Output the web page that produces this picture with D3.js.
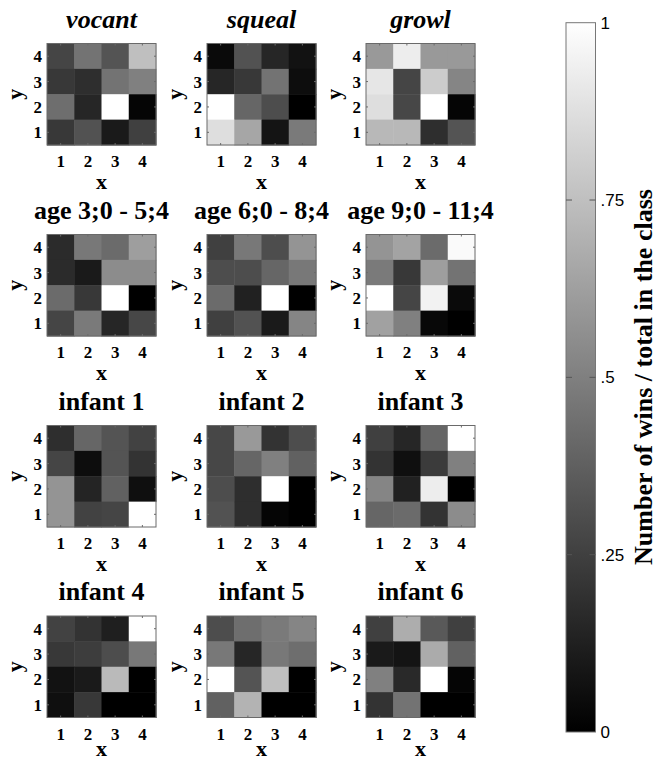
<!DOCTYPE html>
<html>
<head>
<meta charset="utf-8">
<script src="https://d3js.org/d3.v7.min.js"></script>
<style>
  body { margin: 0; background: #fff; }
  svg text { font-family: "Liberation Serif", "Times New Roman", serif; font-weight: bold; fill: #000; }
  svg text.cb { font-family: "Liberation Sans", Arial, sans-serif; font-weight: normal; }
</style>
</head>
<body>
<script>
// panel titles, in reading order
var titles = ['vocant', 'squeal', 'growl',
              'age 3;0 - 5;4', 'age 6;0 - 8;4', 'age 9;0 - 11;4',
              'infant 1', 'infant 2', 'infant 3',
              'infant 4', 'infant 5', 'infant 6'];
var italicTitles = ['vocant', 'squeal', 'growl'];

var xs = [1, 2, 3, 4];
var ys = [4, 3, 2, 1];   // rows from top to bottom

// each grid: rows y=4 .. y=1, columns x=1 .. 4
var vocant = [[0.27, 0.45, 0.33, 0.75],
              [0.22, 0.18, 0.45, 0.50],
              [0.43, 0.15, 1.00, 0.02],
              [0.22, 0.32, 0.10, 0.25]];
var squeal = [[0.04, 0.32, 0.15, 0.07],
              [0.15, 0.22, 0.45, 0.05],
              [1.00, 0.40, 0.30, 0.00],
              [0.87, 0.65, 0.08, 0.48]];
var growl  = [[0.60, 0.93, 0.60, 0.60],
              [0.90, 0.27, 0.80, 0.52],
              [0.87, 0.28, 1.00, 0.02],
              [0.72, 0.72, 0.18, 0.33]];
var age3   = [[0.17, 0.47, 0.42, 0.62],
              [0.17, 0.10, 0.55, 0.55],
              [0.42, 0.22, 1.00, 0.00],
              [0.27, 0.48, 0.15, 0.28]];
var age6   = [[0.25, 0.47, 0.30, 0.58],
              [0.30, 0.30, 0.40, 0.47],
              [0.42, 0.13, 1.00, 0.00],
              [0.25, 0.32, 0.10, 0.52]];
var age9   = [[0.58, 0.64, 0.42, 0.98],
              [0.48, 0.22, 0.62, 0.45],
              [1.00, 0.27, 0.95, 0.04],
              [0.63, 0.50, 0.03, 0.00]];
var infant1 = [[0.18, 0.40, 0.33, 0.26],
               [0.27, 0.05, 0.33, 0.20],
               [0.58, 0.14, 0.38, 0.06],
               [0.58, 0.26, 0.27, 1.00]];
var infant2 = [[0.28, 0.60, 0.20, 0.30],
               [0.28, 0.40, 0.50, 0.38],
               [0.30, 0.18, 1.00, 0.00],
               [0.32, 0.18, 0.02, 0.00]];
var infant3 = [[0.25, 0.15, 0.40, 1.00],
               [0.20, 0.06, 0.23, 0.50],
               [0.52, 0.13, 0.93, 0.00],
               [0.40, 0.42, 0.20, 0.55]];
var infant4 = [[0.26, 0.20, 0.12, 1.00],
               [0.22, 0.24, 0.30, 0.47],
               [0.07, 0.10, 0.73, 0.00],
               [0.06, 0.22, 0.00, 0.00]];
var infant5 = [[0.30, 0.43, 0.48, 0.52],
               [0.47, 0.15, 0.47, 0.43],
               [1.00, 0.33, 0.75, 0.00],
               [0.38, 0.70, 0.00, 0.00]];
var infant6 = [[0.25, 0.68, 0.35, 0.25],
               [0.10, 0.08, 0.67, 0.38],
               [0.50, 0.16, 1.00, 0.02],
               [0.20, 0.45, 0.00, 0.00]];

var grids = [vocant, squeal, growl, age3, age6, age9,
             infant1, infant2, infant3, infant4, infant5, infant6];

var cbTicks = [0, 0.25, 0.5, 0.75, 1];
var cbTickLabels = ['0', '.25', '.5', '.75', '1'];
var cbTitle = 'Number of wins / total in the class';

var W = 659, H = 761;
var panelW = 109, panelH = 101.5;
var colLeft = [47, 207, 366];
var rowTop = [43.5, 234.5, 425.5, 616];

var gray = d3.scaleLinear().domain([0, 1]).range(['#000000', '#ffffff']);
var boxColor = '#6a6a6a';

var svg = d3.select('body').append('svg')
    .attr('width', W).attr('height', H);

grids.forEach(function(grid, k) {
  var col = k % 3, row = Math.floor(k / 3);
  var g = svg.append('g')
      .attr('transform', 'translate(' + colLeft[col] + ',' + rowTop[row] + ')');

  var x = d3.scaleBand().domain(xs).range([0, panelW]);
  var y = d3.scaleBand().domain(ys).range([0, panelH]);

  var cells = [];
  grid.forEach(function(r, i) {
    r.forEach(function(v, j) { cells.push({x: xs[j], y: ys[i], v: v}); });
  });

  g.selectAll('rect.cell').data(cells).enter().append('rect')
      .attr('class', 'cell')
      .attr('x', function(d) { return x(d.x); })
      .attr('y', function(d) { return y(d.y); })
      .attr('width', x.bandwidth() + 0.5)
      .attr('height', y.bandwidth() + 0.5)
      .attr('fill', function(d) { return gray(d.v); });

  // box
  g.append('rect')
      .attr('width', panelW).attr('height', panelH)
      .attr('fill', 'none').attr('stroke', boxColor).attr('stroke-width', 1);

  // little inward ticks like matlab
  var tk = 2;
  xs.forEach(function(v) {
    var cx = x(v) + x.bandwidth() / 2;
    g.append('line').attr('x1', cx).attr('x2', cx).attr('y1', panelH).attr('y2', panelH - tk).attr('stroke', boxColor);
    g.append('line').attr('x1', cx).attr('x2', cx).attr('y1', 0).attr('y2', tk).attr('stroke', boxColor);
  });
  ys.forEach(function(v) {
    var cy = y(v) + y.bandwidth() / 2;
    g.append('line').attr('y1', cy).attr('y2', cy).attr('x1', 0).attr('x2', tk).attr('stroke', boxColor);
    g.append('line').attr('y1', cy).attr('y2', cy).attr('x1', panelW).attr('x2', panelW - tk).attr('stroke', boxColor);
  });

  // tick labels
  g.selectAll('text.xt').data(xs).enter().append('text')
      .attr('class', 'xt')
      .attr('x', function(d) { return x(d) + x.bandwidth() / 2; })
      .attr('y', panelH + 22)
      .attr('text-anchor', 'middle')
      .style('font-size', '17px')
      .text(function(d) { return d; });
  g.selectAll('text.yt').data(ys).enter().append('text')
      .attr('class', 'yt')
      .attr('x', -5)
      .attr('y', function(d) { return y(d) + y.bandwidth() / 2 + 6; })
      .attr('text-anchor', 'end')
      .style('font-size', '17px')
      .text(function(d) { return d; });

  // axis labels (bottom row nudged up so it stays inside the page)
  g.append('text')
      .attr('x', panelW / 2).attr('y', panelH + (row === 3 ? 38 : 44))
      .attr('text-anchor', 'middle')
      .style('font-size', '22px')
      .text('x');
  g.append('text')
      .attr('transform', 'translate(-25,' + (panelH / 2) + ') rotate(-90)')
      .attr('text-anchor', 'middle')
      .style('font-size', '22px')
      .text('y');

  // title
  g.append('text')
      .attr('x', panelW / 2).attr('y', -16)
      .attr('text-anchor', 'middle')
      .style('font-size', '26px')
      .style('font-style', italicTitles.includes(titles[k]) ? 'italic' : 'normal')
      .text(titles[k]);
});

// colorbar
var cbX = 566, cbW = 29.5, cbTop = 22.7, cbBot = 732;
var cy = d3.scaleLinear().domain([0, 1]).range([cbBot, cbTop]);

var defs = svg.append('defs');
var grad = defs.append('linearGradient').attr('id', 'cbgrad')
    .attr('x1', 0).attr('y1', 1).attr('x2', 0).attr('y2', 0);
grad.append('stop').attr('offset', '0%').attr('stop-color', gray(0));
grad.append('stop').attr('offset', '100%').attr('stop-color', gray(1));

svg.append('rect')
    .attr('x', cbX).attr('y', cy(1))
    .attr('width', cbW).attr('height', cy(0) - cy(1))
    .attr('fill', 'url(#cbgrad)')
    .attr('stroke', '#777').attr('stroke-width', 1);

cbTicks.forEach(function(t) {
  if (t === 0 || t === 1) return;
  svg.append('line').attr('x1', cbX).attr('x2', cbX + 6)
      .attr('y1', cy(t)).attr('y2', cy(t)).attr('stroke', '#555');
  svg.append('line').attr('x1', cbX + cbW).attr('x2', cbX + cbW - 6)
      .attr('y1', cy(t)).attr('y2', cy(t)).attr('stroke', '#555');
});

svg.selectAll('text.cb').data(cbTicks).enter().append('text')
    .attr('class', 'cb')
    .attr('x', cbX + cbW + 5)
    .attr('y', function(d) { return cy(d) + 6; })
    .style('font-size', '17px')
    .text(function(d, i) { return cbTickLabels[i]; });

svg.append('text')
    .attr('transform', 'translate(652,377) rotate(-90)')
    .attr('text-anchor', 'middle')
    .style('font-size', '26px')
    .text(cbTitle);
</script>
</body>
</html>
